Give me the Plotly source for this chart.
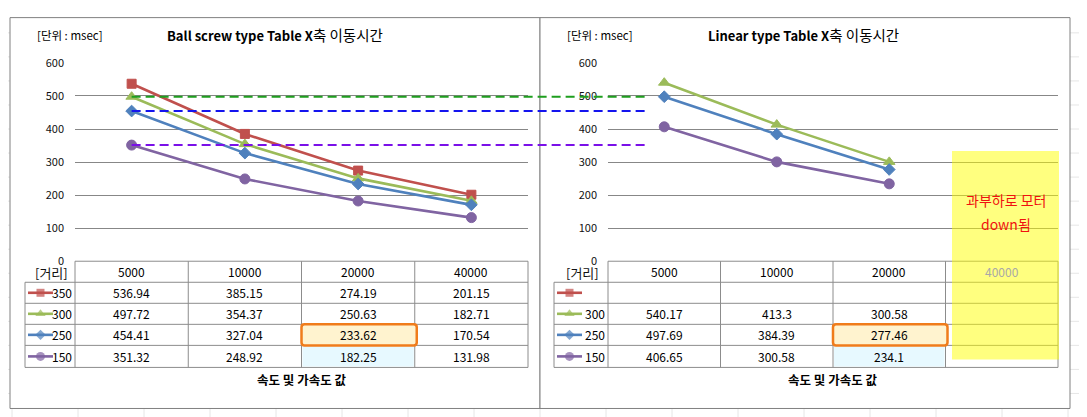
import plotly.graph_objects as go

W, H = 1087, 417
OFFX = 8                     # page body margin (x)
A_Y, S_Y, OFFY = 8.5, 0.96, 8  # measured vertical placement of the page
FONT = "Noto Sans CJK KR"

# ---------------- data ----------------
speeds = ["5000", "10000", "20000", "40000"]
distances = ["350", "300", "250", "150"]
ball_350 = [536.94, 385.15, 274.19, 201.15]
ball_300 = [497.72, 354.37, 250.63, 182.71]
ball_250 = [454.41, 327.04, 233.62, 170.54]
ball_150 = [351.32, 248.92, 182.25, 131.98]
lin_350 = [None, None, None, None]
lin_300 = [540.17, 413.3, 300.58, None]
lin_250 = [497.69, 384.39, 277.46, None]
lin_150 = [406.65, 300.58, 234.1, None]
y_ticks = [0, 100, 200, 300, 400, 500, 600]
title_en = ["Ball screw type Table X", "Linear type Table X"]
title_ko = "축 이동시간"
unit_label = "[단위 : msec]"
x_title = "속도 및 가속도 값"
row_header = "[거리]"
note_lines = ["과부하로 모터", "down됨"]

colors = ["#C0504D", "#9BBB59", "#4F81BD", "#8064A2"]
symbols = ["square", "triangle-up", "diamond", "circle"]
msizes = [9, 10, 9, 10]
ref_colors = ["#1E9E1E", "#1414EE", "#7A10E8"]

# ---------------- geometry (target pixels) ----------------
Y0, Y600 = 260, 62
ROWS = [260, 281, 302, 323, 344, 366]
charts = [
    dict(frame=(10, 540), plot=(75, 528), leg=25, title_x=275, unit_x=35),
    dict(frame=(540, 1070), plot=(608, 1058), leg=554, title_x=803, unit_x=565),
]
FRAME_T, FRAME_B = 16.8, 407


def px(x):
    return (x - OFFX) / W


def py(y):
    return 1 - ((y - A_Y) / S_Y - OFFY) / H


fig = go.Figure()
shapes, annotations = [], []

# spreadsheet background cell lines
for gx in range(12, W + OFFX, 66):
    shapes.append(dict(type="line", xref="paper", yref="paper", x0=px(gx), x1=px(gx), y0=0, y1=1,
                       line=dict(color="#E6E6E6", width=1), layer="below"))
for gy in range(32, H + 8, 24):
    shapes.append(dict(type="line", xref="paper", yref="paper", x0=0, x1=1, y0=py(gy), y1=py(gy),
                       line=dict(color="#E6E6E6", width=1), layer="below"))

datasets = [
    [ball_350, ball_300, ball_250, ball_150],
    [lin_350, lin_300, lin_250, lin_150],
]

for ci, ch in enumerate(charts):
    fx0, fx1 = ch["frame"]
    shapes.append(dict(type="rect", xref="paper", yref="paper", x0=px(fx0), x1=px(fx1),
                       y0=py(FRAME_B), y1=py(FRAME_T), fillcolor="white",
                       line=dict(color="#808080", width=1), layer="below"))

for ci, ch in enumerate(charts):
    xa = "x" if ci == 0 else "x2"
    ya = "y" if ci == 0 else "y2"
    p0, p1 = ch["plot"]
    fig.update_layout(**{
        ("xaxis" if ci == 0 else "xaxis2"): dict(
            domain=[px(p0), px(p1)], type="category", range=[-0.5, 3.5],
            showticklabels=False, showgrid=False, zeroline=False, showline=False,
            anchor=ya, fixedrange=True),
        ("yaxis" if ci == 0 else "yaxis2"): dict(
            domain=[py(Y0), py(Y600)], range=[0, 600], tickvals=y_ticks,
            showgrid=True, gridcolor="#878787", gridwidth=1, zeroline=False,
            showline=False, ticks="", ticklabelstandoff=10,
            tickfont=dict(family=FONT, size=11, color="#111"), anchor=xa, fixedrange=True),
    })
    for si, series in enumerate(datasets[ci]):
        fig.add_trace(go.Scatter(
            x=speeds, y=series, xaxis=xa, yaxis=ya, mode="lines+markers",
            line=dict(color=colors[si], width=2.6),
            marker=dict(symbol=symbols[si], size=msizes[si], color=colors[si],
                        line=dict(color=colors[si], width=1)),
            showlegend=False, hoverinfo="skip", connectgaps=False))

    # titles
    annotations.append(dict(xref="paper", yref="paper", x=px(ch["title_x"]), y=py(34),
                            text="<b>" + title_en[ci] + "</b><span style='font-size:14.5px'>" + title_ko + "</span>",
                            showarrow=False,
                            font=dict(family=FONT, size=13, color="#000"),
                            xanchor="center", yanchor="middle"))
    annotations.append(dict(xref="paper", yref="paper", x=px(ch["unit_x"]), y=py(34),
                            text=unit_label, showarrow=False,
                            font=dict(family=FONT, size=11.5, color="#000"),
                            xanchor="left", yanchor="middle"))
    annotations.append(dict(xref="paper", yref="paper", x=px((p0 + p1) / 2), y=py(378),
                            text="<b>" + x_title + "</b>", showarrow=False,
                            font=dict(family=FONT, size=12.5, color="#000"),
                            xanchor="center", yanchor="middle"))
    annotations.append(dict(xref="paper", yref="paper", x=px((ch["leg"] + p0) / 2 + 1), y=py(271),
                            text=row_header, showarrow=False,
                            font=dict(family=FONT, size=13, color="#111"),
                            xanchor="center", yanchor="middle"))

    # ---- data table ----
    colw = (p1 - p0) / len(speeds)
    lc = dict(color="#8C8C8C", width=1)
    shapes.append(dict(type="line", xref="paper", yref="paper", x0=px(p0), x1=px(p1),
                       y0=py(ROWS[0]), y1=py(ROWS[0]), line=lc))
    for r in ROWS[1:]:
        shapes.append(dict(type="line", xref="paper", yref="paper", x0=px(ch["leg"]), x1=px(p1),
                           y0=py(r), y1=py(r), line=lc))
    shapes.append(dict(type="line", xref="paper", yref="paper", x0=px(ch["leg"]), x1=px(ch["leg"]),
                       y0=py(ROWS[1]), y1=py(ROWS[-1]), line=lc))
    for k in range(len(speeds) + 1):
        xx = p0 + k * colw
        shapes.append(dict(type="line", xref="paper", yref="paper", x0=px(xx), x1=px(xx),
                           y0=py(ROWS[0]), y1=py(ROWS[-1]), line=lc))

    # highlight boxes (20000 column, 250 row) + light tint below
    hx0, hx1 = p0 + 2 * colw, p0 + 3 * colw
    shapes.append(dict(type="rect", xref="paper", yref="paper", x0=px(hx0 + 1), x1=px(hx1 - 1),
                       y0=py(ROWS[5] - 1), y1=py(ROWS[4] + 1), fillcolor="rgba(215,245,255,0.6)",
                       line=dict(width=0)))
    r0, r1 = ROWS[3], ROWS[4]
    rad = 3
    a, b, c, d = px(hx0), px(hx1 + 2), py(r0), py(r1)
    rx, ry = rad / W, rad / H
    path = (f"M {a+rx},{c} L {b-rx},{c} Q {b},{c} {b},{c-ry} L {b},{d+ry} Q {b},{d} {b-rx},{d} "
            f"L {a+rx},{d} Q {a},{d} {a},{d+ry} L {a},{c-ry} Q {a},{c} {a+rx},{c} Z")
    shapes.append(dict(type="path", xref="paper", yref="paper", path=path,
                       fillcolor="#FFF3CF", line=dict(color="#F07C1B", width=2.5)))

    # header row
    for j, s in enumerate(speeds):
        col = "#A8A8A8" if (ci == 1 and all(ds[j] is None for ds in datasets[ci])) else "#000"
        annotations.append(dict(xref="paper", yref="paper", x=px(p0 + (j + 0.5) * colw),
                                y=py((ROWS[0] + ROWS[1]) / 2), text=s, showarrow=False,
                                font=dict(family=FONT, size=12, color=col),
                                xanchor="center", yanchor="middle"))
    # body rows
    for si, series in enumerate(datasets[ci]):
        yc = (ROWS[si + 1] + ROWS[si + 2]) / 2
        has_data = any(v is not None for v in series)
        for j, v in enumerate(series):
            if v is None:
                continue
            annotations.append(dict(xref="paper", yref="paper", x=px(p0 + (j + 0.5) * colw),
                                    y=py(yc), text=str(v), showarrow=False,
                                    font=dict(family=FONT, size=12, color="#000"),
                                    xanchor="center", yanchor="middle"))
        lx = ch["leg"]
        fig.add_trace(go.Scatter(
            x=[lx + 3, lx + 15.5, lx + 28], y=[yc, yc, yc], xaxis="x3", yaxis="y3",
            mode="lines+markers", line=dict(color=colors[si], width=2.6),
            marker=dict(symbol=symbols[si], size=[0, msizes[si] - 1, 0], color=colors[si],
                        line=dict(width=0)),
            showlegend=False, hoverinfo="skip"))
        if has_data:
            annotations.append(dict(xref="paper", yref="paper", x=px(p0 - 1), y=py(yc),
                                    text=distances[si], showarrow=False,
                                    font=dict(family=FONT, size=12, color="#000"),
                                    xanchor="right", yanchor="middle"))

# dashed reference lines (5000 values of the ball-screw chart)
ref_series = [ball_300, ball_250, ball_150]
lp0, lp1 = charts[0]["plot"]
dash_x0 = lp0 + 0.5 * (lp1 - lp0) / len(speeds)
for k, s in enumerate(ref_series):
    shapes.append(dict(type="line", xref="paper", yref="y", x0=px(dash_x0), x1=px(647),
                       y0=s[0], y1=s[0], line=dict(color=ref_colors[k], width=2, dash="9px,5px")))

# overload note box on the right chart
shapes.append(dict(type="rect", xref="paper", yref="paper", x0=px(952), x1=px(1059),
                   y0=py(358), y1=py(150), fillcolor="rgba(255,255,0,0.5)", line=dict(width=0),
                   layer="above"))
annotations.append(dict(xref="paper", yref="paper", x=px(1006), y=py(199), text=note_lines[0],
                        showarrow=False, font=dict(family=FONT, size=14, color="#F01010"),
                        xanchor="center", yanchor="middle"))
annotations.append(dict(xref="paper", yref="paper", x=px(1006), y=py(223), text=note_lines[1],
                        showarrow=False, font=dict(family=FONT, size=14, color="#F01010"),
                        xanchor="center", yanchor="middle"))

y3_bottom = A_Y + S_Y * (H + OFFY)
y3_top = A_Y + S_Y * OFFY
fig.update_layout(
    width=W, height=H, margin=dict(l=0, r=0, t=0, b=0),
    paper_bgcolor="white", plot_bgcolor="rgba(0,0,0,0)",
    xaxis3=dict(domain=[0, 1], range=[OFFX, W + OFFX], visible=False, fixedrange=True, anchor="y3"),
    yaxis3=dict(domain=[0, 1], range=[y3_bottom, y3_top], visible=False, fixedrange=True, anchor="x3"),
    shapes=shapes, annotations=annotations, showlegend=False,
)

fig.write_html("out.html")
